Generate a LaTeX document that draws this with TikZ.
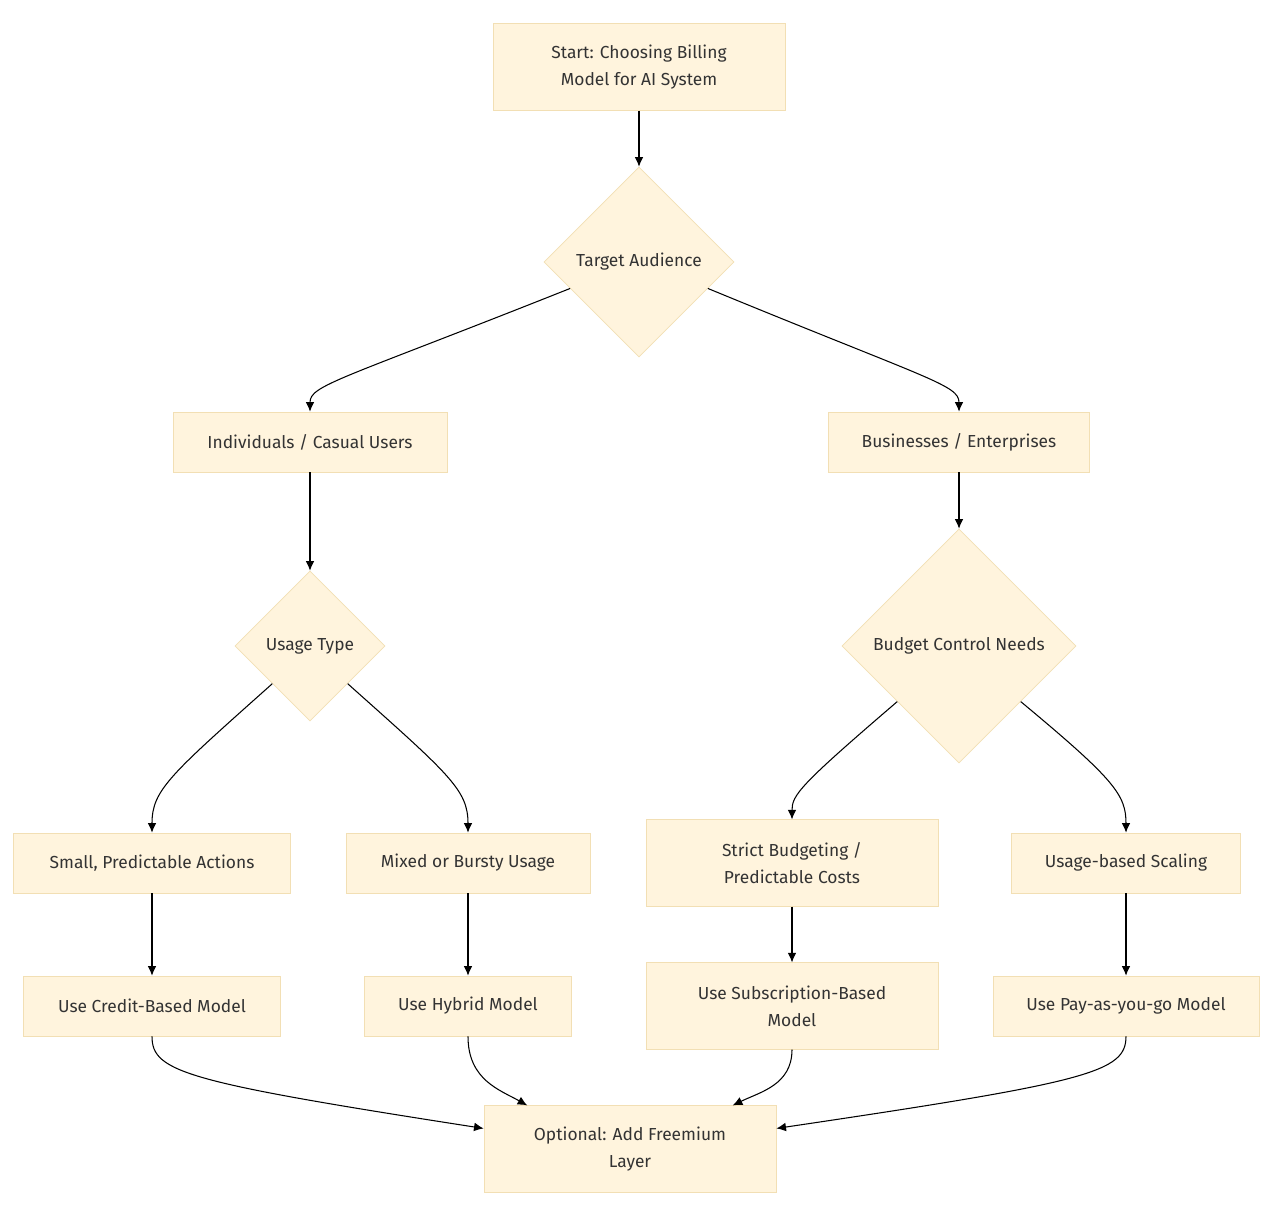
\documentclass[tikz,border=0pt]{standalone}
\usepackage{fontspec}
\setmainfont{Fira Sans}
\usepackage{tikz}
\usetikzlibrary{shapes.geometric,arrows.meta,positioning}
\definecolor{boxfill}{HTML}{FFF4DD}
\definecolor{boxline}{HTML}{F2DFB4}
\definecolor{txt}{HTML}{333333}
\tikzstyle{box} = [rectangle, draw=boxline, fill=boxfill, text=txt, align=center, inner sep=2pt, minimum height=1.2cm]
\tikzstyle{tallbox} = [box, minimum width=5.84cm, minimum height=1.73cm]
\tikzstyle{decision} = [diamond, draw=boxline, fill=boxfill, text=txt, align=center, inner sep=0pt, aspect=1]
\tikzstyle{arrow} = [draw, -{Latex[length=5.5pt,width=5pt]}, line width=0.6pt]

\begin{document}
\begin{tikzpicture}[x=0.02cm, y=-0.02cm, font=\fontsize{9.9pt}{15.3pt}\selectfont]
    \fill[white] (0,0) rectangle (1272,1215);
    \useasboundingbox (0,0) rectangle (1272,1215);
    % top
    \node[tallbox] (start) at (639,67) {Start: Choosing Billing\\ Model for AI System};
    \node[decision, minimum size=3.8cm] (target) at (639,262) {Target Audience};
    % second level
    \node[box, minimum width=5.48cm] (indiv) at (310,442) {Individuals / Casual Users};
    \node[box, minimum width=5.22cm] (biz) at (959,442) {Businesses / Enterprises};
    \node[decision, minimum size=3.0cm] (usage) at (310,646) {Usage Type};
    \node[decision, minimum size=4.68cm] (budget) at (959,646) {Budget Control Needs};
    % needs
    \node[box, minimum width=5.54cm] (small) at (152,863) {Small, Predictable Actions};
    \node[box, minimum width=4.88cm] (mixed) at (468,863) {Mixed or Bursty Usage};
    \node[tallbox] (strict) at (792,863) {Strict Budgeting /\\ Predictable Costs};
    \node[box, minimum width=4.58cm] (scaling) at (1126,863) {Usage-based Scaling};
    % models
    \node[box, minimum width=5.14cm] (credit) at (152,1006) {Use Credit-Based Model};
    \node[box, minimum width=4.14cm] (hybrid) at (468,1006) {Use Hybrid Model};
    \node[tallbox] (subscr) at (792,1006) {Use Subscription-Based\\ Model};
    \node[box, minimum width=5.32cm] (payg) at (1126,1006) {Use Pay-as-you-go Model};
    \node[tallbox] (freemium) at (630,1149) {Optional: Add Freemium\\ Layer};

    \draw[arrow] (start) -- (target);
    \draw[arrow] (target.201) .. controls (340,380) and (310,385) .. (indiv.north);
    \draw[arrow] (target.339) .. controls (930,380) and (959,385) .. (biz.north);
    \draw[arrow] (indiv) -- (usage);
    \draw[arrow] (biz) -- (budget);
    \draw[arrow] (usage.225) .. controls (170,775) and (152,790) .. (small.north);
    \draw[arrow] (usage.315) .. controls (450,775) and (468,790) .. (mixed.north);
    \draw[arrow] (budget.222) .. controls (800,785) and (792,795) .. (strict.north);
    \draw[arrow] (budget.318) .. controls (1115,780) and (1126,795) .. (scaling.north);
    \draw[arrow] (small) -- (credit);
    \draw[arrow] (mixed) -- (hybrid);
    \draw[arrow] (strict) -- (subscr);
    \draw[arrow] (scaling) -- (payg);
    \draw[arrow] (credit.south) .. controls (152,1072) and (185,1082) .. (freemium.172);
    \draw[arrow] (hybrid.south) .. controls (468,1080) and (500,1090) .. (freemium.157);
    \draw[arrow] (subscr.south) .. controls (792,1085) and (760,1092) .. (freemium.23);
    \draw[arrow] (payg.south) .. controls (1126,1072) and (1090,1082) .. (freemium.8);
  \end{tikzpicture}
\end{document}
